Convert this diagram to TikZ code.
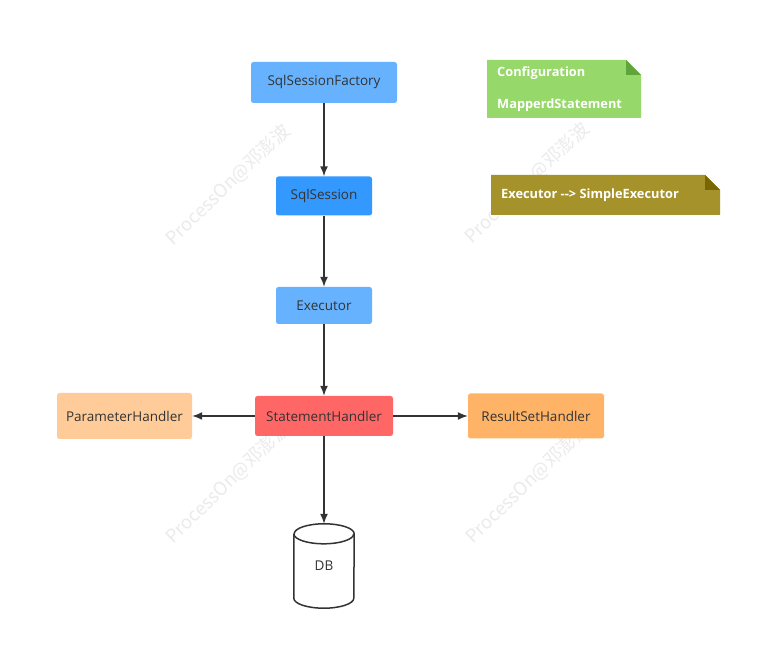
\documentclass[tikz,border=0pt]{standalone}
\usepackage{fontspec}
\setmainfont{Open Sans}
\newfontfamily\wmfont{Noto Sans CJK SC}
\usetikzlibrary{arrows.meta}
\definecolor{txt}{HTML}{333333}
\definecolor{blueA}{HTML}{66B2FF}
\definecolor{blueB}{HTML}{3399FF}
\definecolor{redA}{HTML}{FF6666}
\definecolor{peach}{HTML}{FFCC99}
\definecolor{orangeA}{HTML}{FFB366}
\definecolor{noteG}{HTML}{97D86B}
\definecolor{noteGd}{HTML}{5FA53A}
\definecolor{noteO}{HTML}{A6922B}
\definecolor{noteOd}{HTML}{7A6600}
\definecolor{wm}{HTML}{EBEBEB}
\tikzset{
  box/.style={rounded corners=2.5pt, inner sep=0pt, text=txt, font=\fontsize{13.5}{16}\selectfont},
  conn/.style={draw=txt, line width=1.5pt, -{Latex[length=10pt,width=8pt]}},
  wmark/.style={text=wm, rotate=44, font=\wmfont\fontsize{18.5}{20}\selectfont},
  notetext/.style={text=white, font=\bfseries\fontsize{12.8}{15}\selectfont, anchor=west, inner sep=0pt},
}
\begin{document}
\begin{tikzpicture}[x=1pt,y=1pt]
\useasboundingbox (0,0) rectangle (767,663);
\fill[white] (0,0) rectangle (767,663);
% watermarks
\node[wmark] (wm1) at (228,478) {ProcessOn@邓澎波};
\node[wmark] (wm2) at (527,480) {ProcessOn@邓澎波};
\node[wmark] (wm3) at (228,180) {ProcessOn@邓澎波};
\node[wmark] (wm4) at (528,180) {ProcessOn@邓澎波};
% nodes
\node[box, fill=blueA, minimum width=146, minimum height=41] (ssf) at (324,580.5) {SqlSessionFactory};
\node[box, fill=blueB, minimum width=96, minimum height=39] (ss) at (324,467) {SqlSession};
\node[box, fill=blueA, minimum width=96, minimum height=37] (ex) at (324,357.5) {Executor};
\node[box, fill=redA, minimum width=138, minimum height=40] (sh) at (324,247) {StatementHandler};
\node[box, fill=peach, minimum width=135, minimum height=46] (ph) at (124.5,247) {ParameterHandler};
\node[box, fill=orangeA, minimum width=136, minimum height=45] (rsh) at (536,247) {ResultSetHandler};
% DB cylinder
\node[box, minimum width=60, minimum height=84] (db) at (324,97) {};
\draw[txt, line width=1.5pt, fill=white]
  ([yshift=-10pt]db.north west) -- ([yshift=10pt]db.south west)
  arc[start angle=180, end angle=360, x radius=30pt, y radius=10pt]
  -- ([yshift=-10pt]db.north east)
  arc[start angle=0, end angle=180, x radius=30pt, y radius=10pt];
\draw[txt, line width=1.5pt]
  ([yshift=-10pt]db.north west)
  arc[start angle=180, end angle=360, x radius=30pt, y radius=10pt];
\node[box] (dbl) at (db.center) {DB};
% notes
\fill[noteG] (487,545) -- (487,603) -- (626,603) -- (641,588) -- (641,545) -- cycle;
\fill[noteGd] (626,603) -- (641,588) -- (626,588) -- cycle;
\node[notetext] (n1) at (497,590) {Configuration};
\node[notetext] (n2) at (497,558) {MapperdStatement};
\fill[noteO] (491,448) -- (491,488) -- (705,488) -- (720,473) -- (720,448) -- cycle;
\fill[noteOd] (705,488) -- (720,473) -- (705,473) -- cycle;
\node[notetext] (n3) at (501,468) {Executor -{}-> SimpleExecutor};
% connectors
\draw[conn] (ssf) -- (ss);
\draw[conn] (ss) -- (ex);
\draw[conn] (ex) -- (sh);
\draw[conn] (sh) -- (ph);
\draw[conn] (sh) -- (rsh);
\draw[conn] (sh.south) -- (db.north);
\end{tikzpicture}
\end{document}
